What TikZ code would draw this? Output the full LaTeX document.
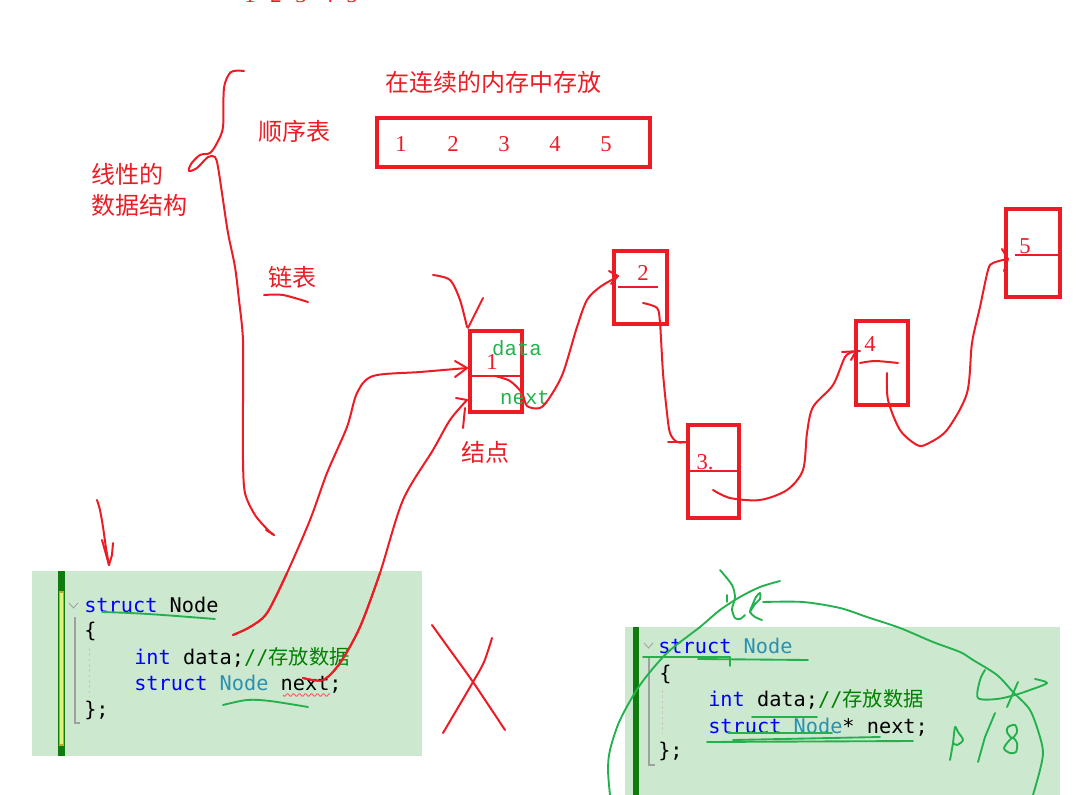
\documentclass[tikz,border=0pt]{standalone}
\usepackage{fontspec}
\newfontfamily\cjk{Noto Sans CJK SC}
\newfontfamily\codefont{DejaVu Sans Mono}
\newfontfamily\lmono{Liberation Mono}
\newfontfamily\lserif{Liberation Serif}
\definecolor{pred}{RGB}{237,28,36}
\definecolor{pgreen}{RGB}{34,177,76}
\definecolor{codebg}{RGB}{204,232,207}
\definecolor{barg}{RGB}{16,124,16}
\definecolor{olive}{RGB}{190,170,40}
\definecolor{kw}{RGB}{0,0,255}
\definecolor{ty}{RGB}{43,145,175}
\definecolor{cm}{RGB}{0,128,0}
\definecolor{guide}{RGB}{160,160,160}
\begin{document}
\begin{tikzpicture}[x=0.75pt,y=-0.75pt,
  hand/.style={draw=pred, line width=1.5pt, line cap=round, line join=round},
  ghand/.style={draw=pgreen, line width=1.4pt, line cap=round, line join=round},
  rbox/.style={draw=pred, line width=2.4pt, inner sep=0, rectangle},
  rtext/.style={text=pred, font=\cjk\fontsize{18}{20}\selectfont, inner sep=0},
  rdig/.style={text=pred, font=\lserif\fontsize{17}{20}\selectfont, inner sep=0},
  gtext/.style={text=pgreen, font=\lmono\fontsize{15.5}{18}\selectfont, inner sep=0},
  code/.style={font=\codefont\fontsize{15.2}{18}\selectfont, anchor=base west, inner sep=0}]
\useasboundingbox (0,0) rectangle (1082,795);
\clip (0,0) rectangle (1082,795);

% code box backgrounds (drawn first, strokes go over them)
\fill[codebg] (32,571) rectangle (422,756);
\fill[barg] (58,571) rectangle (65,756);
\fill[codebg!60!yellow] (59.5,592) rectangle (63.5,745);
\draw[olive, line width=0.8pt] (59.5,592) rectangle (63.5,745);
\fill[codebg] (625,627) rectangle (1060,795);
\fill[barg] (633,627) rectangle (639,795);

% cut-off digits at top
\foreach \xx/\d in {250/1,276/2,301/3,328/4,352/5}
  \node[rdig, anchor=base] (top\d) at (\xx,3) {\d};

% titles
\node[rtext, anchor=west] (cont) at (385,82) {在连续的内存中存放};
\node[rtext, anchor=west] (shunxu) at (258,131) {顺序表};
\node[rtext, anchor=west] (xian1) at (91,174) {线性的};
\node[rtext, anchor=west] (xian2) at (91,205) {数据结构};
\node[rtext, anchor=west] (lianbiao) at (268,277) {链表};
\node[rtext] (jiedian) at (485,452) {结点};

% sequential table
\node[rbox, minimum width=204.75pt, minimum height=36.75pt] (seq) at (513.5,142.5) {};
\foreach \xx/\d in {401/1,453/2,504/3,555/4,606/5}
  \node[rdig] (s\d) at (\xx,144) {\d};

% linked nodes
\node[rbox, minimum width=39pt, minimum height=60.75pt] (n1) at (496,371.5) {};
\node[rbox, minimum width=39.75pt, minimum height=54.75pt] (n2) at (640.5,287.5) {};
\node[rbox, minimum width=38.25pt, minimum height=69.75pt] (n3) at (713.5,471.5) {};
\node[rbox, minimum width=39pt, minimum height=63pt] (n4) at (882,363) {};
\node[rbox, minimum width=40.5pt, minimum height=66pt] (n5) at (1033,253) {};

\draw[pred, line width=1.6pt] (470,376) -- (522,376);
\draw[pred, line width=1.6pt] (618,287) -- (658,287);
\draw[pred, line width=1.6pt] (686,471) -- (739,471);
\draw[hand] plot[smooth] coordinates {(860,363) (875,361) (898,363)};
\draw[pred, line width=1.6pt] (1015,255) -- (1060,255);

\node[rdig] (l1) at (492,362) {1};
\node[rdig] (l2) at (643,273) {2};
\node[rdig] (l3) at (705,462) {3.};
\node[rdig] (l4) at (870,344) {4};
\node[rdig] (l5) at (1025,246) {5};
\node[gtext] (data) at (517,348) {data};
\node[gtext] (next) at (525,398) {next};

% node to node strokes
\draw[hand] plot[smooth] coordinates {(495,376) (510,381) (522,393) (527,406) (540,408) (550,397) (563,373) (577,327) (587,300) (600,287) (617,277)};
\draw[hand] (609,271) -- (618,276) -- (611,284);
\draw[hand] plot[smooth] coordinates {(643,303) (657,308) (660,323) (663,373) (667,413) (670,433) (677,442) (687,442)};
\draw[hand] (668,442) -- (688,442);
\draw[hand] plot[smooth] coordinates {(713,490) (730,498) (760,500) (787,490) (803,470) (807,433) (813,407) (833,385) (845,357) (853,352)};
\draw[hand] (842,352) -- (860,351);
\draw[hand] (856,351) -- (851,360);
\draw[hand] plot[smooth] coordinates {(887,373) (888,400) (900,430) (917,445) (927,444) (947,430) (967,393) (972,343) (980,307) (988,270) (993,263) (1007,259)};
\draw[hand] (1002,249) -- (1008,259) -- (1004,271);

% arrows into node 1
\draw[hand] plot[smooth] coordinates {(433,275) (450,280) (460,300) (467,327)};
\draw[hand] (483,298) -- (468,328);
\draw[hand] plot[smooth] coordinates {(233,635) (250,627) (267,613) (287,573) (310,520) (327,473) (347,427) (357,393) (373,376) (420,372) (467,368)};
\draw[hand] (455,361) -- (467,368) -- (455,377);
\draw[hand] plot[smooth] coordinates {(303,678) (323,680) (340,663) (360,627) (380,573) (403,500) (433,450) (450,420) (467,400)};
\draw[hand] (456,398) -- (467,400);
\draw[hand] (463,428) -- (465,408);

% brace
\draw[hand] plot[smooth] coordinates {(244,71) (231,72) (224,88) (223,127) (217,143) (210,153) (200,155) (191,164) (189,171) (197,168) (208,157) (215,157) (218,167) (223,200) (228,233) (235,267) (239,300) (243,340) (243,400) (243,460) (245,493) (255,515) (268,530) (274,535)};
\draw[hand] (266,530) -- (274,535);
% underline of 链表
\draw[hand] plot[smooth] coordinates {(264,295) (283,295) (308,302)};
% small down arrow
\draw[hand] plot[smooth] coordinates {(97,500) (100,510) (103,527) (106,548) (109,565)};
\draw[hand] (102,540) -- (109,565);
\draw[hand] (113,543) -- (112,555) -- (109,565);

% red X
\draw[hand] plot[smooth] coordinates {(432,625) (450,650) (473,682) (505,730)};
\draw[hand] plot[smooth] coordinates {(492,638) (484,662) (473,682) (443,733)};

% code box 1 content
\draw[guide, line width=0.6pt] (69,603) -- (73.5,608) -- (78,603);
\draw[guide, line width=1pt] (75,617) -- (75,723) -- (80,723);
\draw[guide!60, line width=0.6pt, dash pattern=on 2pt off 2pt] (89,648) -- (89,697);
\node[code] (c1a) at (84,612) {\textcolor{kw}{struct} Node};
\node[code] (c1b) at (84,637) {\{};
\node[code] (c1c) at (134,664) {\textcolor{kw}{int} data;\textcolor{cm}{//{\cjk\fontsize{15.2}{18}\selectfont 存放数据}}};
\node[code] (c1d) at (134,690) {\textcolor{kw}{struct} \textcolor{ty}{Node} next;};
\node[code] (c1e) at (84,716) {\};};
\draw[pred!70, line width=0.7pt] plot[domain=0:47, samples=48] ({283+\x},{695+1.3*sin(\x*60)});
\draw[ghand] plot[smooth] coordinates {(102,612) (130,613) (163,615) (215,619)};
\draw[ghand] plot[smooth] coordinates {(223,705) (247,700) (270,701) (308,707)};
% red strokes' ends inside box 1 (over the text)
\draw[hand] plot[smooth] coordinates {(233,635) (250,627) (267,613) (287,573)};
\draw[hand] plot[smooth] coordinates {(303,678) (323,680) (340,663) (360,627) (380,573)};

% code box 2 content
\draw[guide, line width=0.6pt] (644,643) -- (648.5,648) -- (653,643);
\draw[guide, line width=1pt] (649,656) -- (649,765) -- (655,765);
\draw[guide!60, line width=0.6pt, dash pattern=on 2pt off 2pt] (662,690) -- (662,733);
\node[code] (c2a) at (658,653) {\textcolor{kw}{struct} \textcolor{ty}{Node}};
\node[code] (c2b) at (659,680) {\{};
\node[code] (c2c) at (708,706) {\textcolor{kw}{int} data;\textcolor{cm}{//{\cjk\fontsize{15.2}{18}\selectfont 存放数据}}};
\node[code] (c2d) at (708,733) {\textcolor{kw}{struct} \textcolor{ty}{Node}* next;};
\node[code] (c2e) at (658,757) {\};};

% green annotations box 2
\draw[ghand] (643,657) -- (730,657);
\draw[ghand] (698,659) -- (808,660);
\draw[ghand] (730,657) -- (730,666);
\draw[ghand] (752,717) -- (817,717);
\draw[ghand] (728,733) -- (832,733);
\draw[ghand] (707,742) -- (913,741);
\draw[ghand] (733,740) -- (880,737);
\draw[ghand] plot[smooth] coordinates {(780,581) (760,587) (740,597) (720,610) (700,627) (667,653) (640,685) (620,720) (610,750) (608,770) (610,795)};
\draw[ghand] plot[smooth] coordinates {(763,602) (803,602) (840,608) (867,617) (900,628) (933,642) (960,652) (973,660) (997,675) (1013,692) (1030,710) (1040,737) (1043,753) (1040,770) (1033,795)};
\draw[ghand] plot[smooth] coordinates {(720,570) (732,585) (735,597) (733,605) (732,610) (735,618) (740,619) (745,615)};
\draw[ghand] (727,595) -- (727,602);
\draw[ghand] plot[smooth] coordinates {(750,612) (755,604) (760,599) (760,593) (756,597) (752,606) (750,612) (755,617) (762,620)};
\draw[ghand] plot[smooth] coordinates {(985,670) (980,680) (978,698) (997,699) (1015,695) (1030,690) (1047,683) (1035,679)};
\draw[ghand] (1018,682) -- (1007,707);
\draw[ghand] plot[smooth] coordinates {(950,760) (953,743) (955,727) (958,732) (963,740) (957,745) (953,743)};
\draw[ghand] (995,713) -- (985,737) -- (978,762);
\draw[ghand] plot[smooth cycle] coordinates {(1008,727) (1015,725) (1017,732) (1012,738) (1007,732)};
\draw[ghand] plot[smooth cycle] coordinates {(1012,738) (1017,743) (1016,752) (1010,753) (1004,748)};
\end{tikzpicture}
\end{document}
